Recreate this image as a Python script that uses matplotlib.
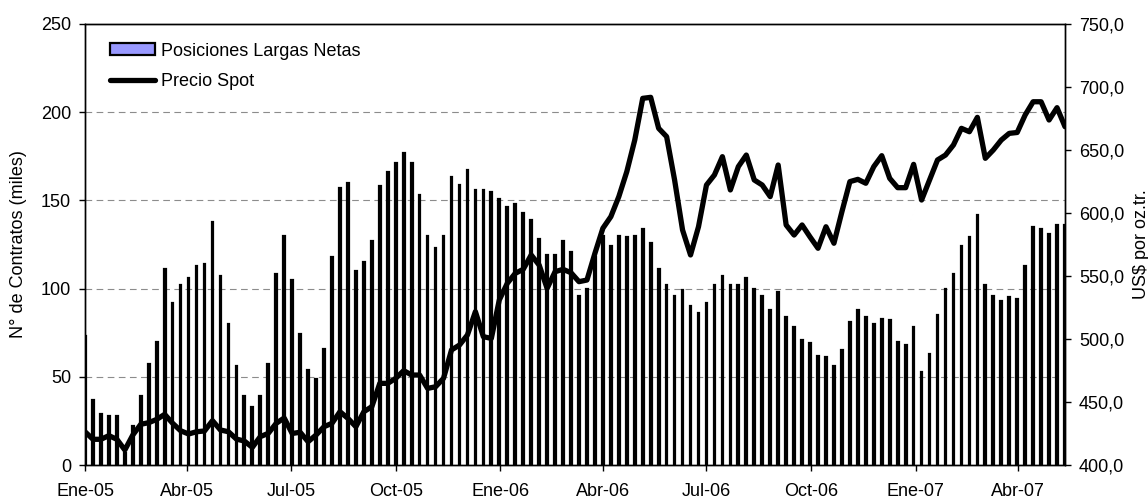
import numpy as np
import pandas as pd
import matplotlib
matplotlib.use('Agg')
import matplotlib.pyplot as plt

plt.rcParams['font.family'] = ['Liberation Sans', 'DejaVu Sans']

# posiciones largas netas semanales (miles de contratos), desde la primera semana de 2005
posiciones = [73, 37, 29, 28, 28, 7, 22, 39, 57, 70,
              111, 92, 102, 106, 113, 114, 138, 107, 80, 56,
              39, 33, 39, 57, 108, 130, 105, 74, 54, 49,
              66, 118, 157, 160, 110, 115, 127, 158, 166, 171,
              177, 171, 153, 130, 123, 130, 163, 159, 167, 156,
              156, 155, 151, 146, 148, 143, 139, 128, 119, 119,
              127, 121, 96, 100, 118, 130, 124, 130, 129, 130,
              134, 126, 111, 102, 96, 99, 90, 86, 92, 102,
              107, 102, 102, 106, 100, 96, 88, 98, 84, 78,
              71, 69, 62, 61, 56, 65, 81, 88, 84, 80,
              83, 82, 70, 68, 78, 53, 63, 85, 100, 108,
              124, 129, 142, 102, 96, 93, 95, 94, 113, 135,
              134, 131, 136, 136]

# precio spot (US$ por onza troy)
precio = [426.4, 420.4, 420.4, 423.3, 420.4, 411.9, 423.8, 432.3, 433.6, 436.2,
          440.2, 433.1, 427.2, 424.6, 426.4, 427.0, 435.2, 427.8, 426.4, 420.6,
          419.0, 414.0, 422.5, 425.1, 433.1, 437.3, 425.0, 426.0, 418.5, 423.8,
          430.4, 433.1, 442.3, 437.0, 430.4, 442.3, 446.3, 464.8, 464.8, 468.8,
          474.9, 471.4, 471.4, 460.8, 462.1, 468.8, 491.3, 495.2, 503.2, 521.7,
          501.8, 500.5, 531.0, 544.2, 552.1, 555.3, 566.7, 558.7, 540.2, 553.4,
          555.3, 552.6, 545.5, 546.8, 568.0, 587.9, 597.1, 613.0, 632.8, 657.9,
          691.0, 691.8, 667.2, 660.6, 626.2, 586.5, 566.7, 589.1, 622.2, 630.2,
          644.7, 618.3, 636.8, 646.0, 626.2, 622.2, 613.0, 638.1, 590.5, 582.5,
          590.5, 581.0, 572.0, 589.1, 576.0, 601.0, 624.9, 626.7, 623.6, 636.8,
          645.5, 627.5, 620.1, 620.1, 638.6, 610.3, 626.2, 642.1, 646.0, 654.0,
          667.2, 664.5, 675.9, 643.4, 650.0, 657.9, 663.2, 663.9, 677.8, 688.3,
          688.3, 673.8, 683.6, 668.5]

fechas = pd.date_range('2005-01-04', periods=len(posiciones), freq='7D')

meses = ['Ene-05', 'Abr-05', 'Jul-05', 'Oct-05', 'Ene-06', 'Abr-06',
         'Jul-06', 'Oct-06', 'Ene-07', 'Abr-07']
ticks_x = [fechas[0] + pd.DateOffset(months=3 * i) for i in range(len(meses))]

fig = plt.figure(figsize=(11.48, 5.01), dpi=100)
ax = fig.add_axes([85 / 1148, 36 / 501, 980 / 1148, 441 / 501])

# barras finas: el borde negro tapa casi todo el relleno
barras = ax.bar(fechas, posiciones, width=1.5, color='#9999ff', edgecolor='black',
                linewidth=1.6, label='Posiciones Largas Netas', zorder=2)
ax.set_ylim(0, 250)
ax.set_yticks(np.arange(0, 251, 50))
ax.set_xlim(fechas[0], fechas[-1])
ax.set_xticks(ticks_x)
ax.set_xticklabels(meses)
for y in [50, 100, 150, 200]:
    ax.axhline(y, color='#8c8c8c', lw=0.8, ls=(0, (6, 4)), zorder=1)
ax.set_ylabel('N° de Contratos (miles)', fontsize=13)
ax.yaxis.set_label_coords(-0.059, 0.5)

ax2 = ax.twinx()
linea, = ax2.plot(fechas, precio, color='black', lw=3.8, solid_joinstyle='round',
                  solid_capstyle='round', label='Precio Spot', zorder=3)
ax2.set_ylim(400, 750)
ax2.set_yticks(np.arange(400, 751, 50))
ax2.set_yticklabels(['%d,0' % v for v in range(400, 751, 50)])
ax2.set_ylabel('US$ por oz.tr.', fontsize=13)
ax2.yaxis.set_label_coords(1.069, 0.5)

for a in (ax, ax2):
    a.tick_params(labelsize=13, direction='out', length=4, width=1)
    for s in a.spines.values():
        s.set_linewidth(1)
ax.tick_params(axis='x', pad=9)
ax.tick_params(axis='y', pad=6)
ax2.tick_params(axis='y', pad=6)

ax2.legend([barras, linea], ['Posiciones Largas Netas', 'Precio Spot'],
           loc='upper left', bbox_to_anchor=(0.0255, 0.958), frameon=False,
           fontsize=13, handlelength=2.5, handleheight=0.65, handletextpad=0.3,
           borderaxespad=0, borderpad=0, labelspacing=0.75)

fig.savefig('out.png', dpi=100)
